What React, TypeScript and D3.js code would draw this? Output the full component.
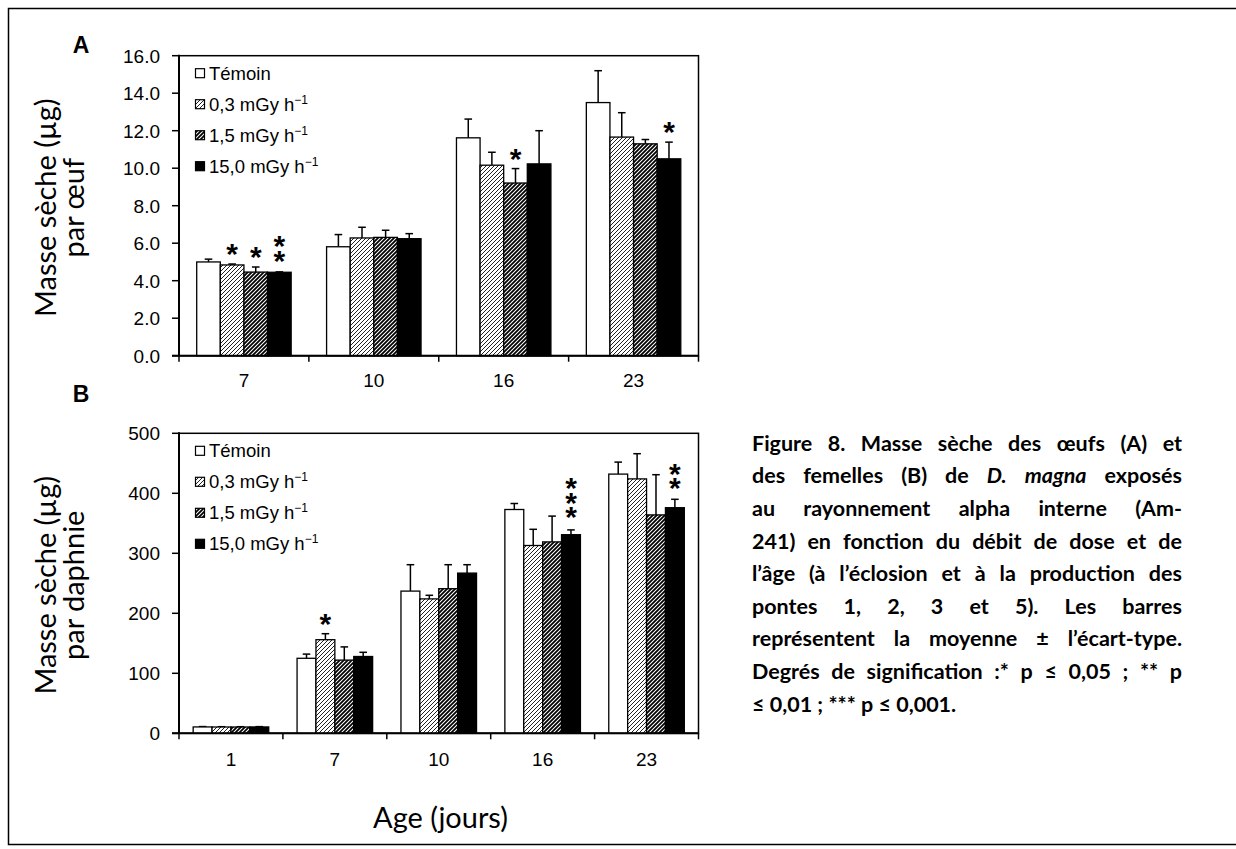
import React, { useMemo } from 'react';
import * as d3 from 'd3';

// ---------------- data ----------------
const seriesNames = ['Témoin', '0,3 mGy h', '1,5 mGy h', '15,0 mGy h'];
const seriesSuperscripts = ['', '−1', '−1', '−1'];

// Panel A : masse sèche par œuf (µg)
const agesA = ['7', '10', '16', '23'];
const eggTemoin = [5.0, 5.81, 11.62, 13.5];
const egg03 = [4.84, 6.28, 10.16, 11.66];
const egg15 = [4.46, 6.31, 9.21, 11.3];
const egg150 = [4.45, 6.24, 10.23, 10.5];
const eggSdTemoin = [0.15, 0.65, 1.0, 1.7];
const eggSd03 = [0.05, 0.57, 0.69, 1.3];
const eggSd15 = [0.27, 0.38, 0.77, 0.23];
const eggSd150 = [0.02, 0.27, 1.77, 0.89];
const eggStars = [
  [0, 1, 1, 2],
  [0, 0, 0, 0],
  [0, 0, 1, 0],
  [0, 0, 0, 1],
];
const eggTicks = [0, 2, 4, 6, 8, 10, 12, 14, 16];

// Panel B : masse sèche par daphnie (µg)
const agesB = ['1', '7', '10', '16', '23'];
const femTemoin = [10.6, 125, 237, 373, 432];
const fem03 = [10.5, 156, 224, 313, 424];
const fem15 = [10.5, 122, 241, 319, 364];
const fem150 = [10.6, 128, 267, 331, 376];
const femSdTemoin = [0.6, 7, 44, 10, 20];
const femSd03 = [0.5, 10, 6, 27, 42];
const femSd15 = [0.5, 22, 40, 43, 67];
const femSd150 = [0.5, 7, 14, 8, 14];
const femStars = [
  [0, 0, 0, 0],
  [0, 1, 0, 0],
  [0, 0, 0, 0],
  [0, 0, 0, 3],
  [0, 0, 0, 2],
];
const femTicks = [0, 100, 200, 300, 400, 500];

const yTitleA = ['Masse sèche (µg)', 'par œuf'];
const yTitleB = ['Masse sèche (µg)', 'par daphnie'];
const xTitle = 'Age (jours)';

const captionLines = [
  'Figure 8. Masse sèche des œufs (A) et',
  'des femelles (B) de D. magna exposés',
  'au rayonnement alpha interne (Am-',
  '241) en fonction du débit de dose et de',
  'l’âge (à l’éclosion et à la production des',
  'pontes 1, 2, 3 et 5). Les barres',
  'représentent la moyenne ± l’écart-type.',
  'Degrés de signification :* p ≤ 0,05 ; ** p',
  '≤ 0,01 ; *** p ≤ 0,001.',
];
const captionItalicLine = 1;
const captionItalicWords = ['D.', 'magna'];

// ---------------- style ----------------
const W = 1236;
const H = 849;
const ARIAL = "'Liberation Sans', Arial, sans-serif";
const CAL = "Lato, 'Open Sans', sans-serif";
const fills = ['#ffffff', 'url(#hatchLight)', 'url(#hatchDark)', '#000000'];
const STAR_FS = 30;
const STAR_GAP = 16;

let _ctx: CanvasRenderingContext2D | null = null;
function textW(t: string, font: string): number {
  if (!_ctx) _ctx = document.createElement('canvas').getContext('2d');
  if (!_ctx) return t.length * 10;
  _ctx.font = font;
  return _ctx.measureText(t).width;
}

function Stars({ cx, yTop, n }: { cx: number; yTop: number; n: number }) {
  if (n <= 0) return null;
  if (n === 1) {
    return (
      <text x={cx} y={yTop - 17 + 0.57 * STAR_FS} textAnchor="middle" fontFamily={ARIAL} fontWeight="bold" fontSize={STAR_FS}>
        *
      </text>
    );
  }
  // stacked stars: one vertical text run
  const adv = 1.149 * STAR_FS;
  const ls = STAR_GAP - adv;
  const inkCenter = 0.325 * STAR_FS;
  const y0 = yTop - 17 - (n - 1) * STAR_GAP - inkCenter;
  return (
    <text
      x={cx}
      y={y0}
      fontFamily={ARIAL}
      fontWeight="bold"
      fontSize={STAR_FS}
      style={{ writingMode: 'vertical-rl', textOrientation: 'upright', letterSpacing: `${ls}px` } as React.CSSProperties}
    >
      {'*'.repeat(n)}
    </text>
  );
}

type PanelProps = {
  cats: string[];
  means: number[][];
  sds: number[][];
  stars: number[][];
  ticks: number[];
  fmt: (v: number) => string;
  left: number;
  right: number;
  top: number;
  bottom: number;
  max: number;
  labelOffset: number;
  letter: string;
  letterY: number;
  title: string[];
  titleFs: number;
};

function Panel(p: PanelProps) {
  const x0 = d3.scaleBand<string>().domain(p.cats).range([p.left, p.right]).paddingInner(0).paddingOuter(0);
  const xs = d3
    .scaleBand<number>()
    .domain([0, 1, 2, 3])
    .range([0, x0.bandwidth()])
    .paddingInner(0)
    .paddingOuter(0.75);
  const y = d3.scaleLinear().domain([0, p.max]).range([p.bottom, p.top]);
  const bw = xs.bandwidth();
  const yc = (p.top + p.bottom) / 2;

  return (
    <g>
      {/* panel letter */}
      <text x={81} y={p.letterY} fontFamily={ARIAL} fontWeight="bold" fontSize={23} textAnchor="middle">
        {p.letter}
      </text>
      {/* y title */}
      {p.title.map((t, i) => (
        <text
          key={i}
          transform={`translate(${i === 0 ? 44 : 72},${yc + 2}) rotate(-90)`}
          fontFamily={CAL}
          fontSize={p.titleFs}
          textAnchor="middle"
          dominantBaseline="central"
        >
          {t}
        </text>
      ))}
      {/* plot area border */}
      <rect x={p.left} y={p.top} width={p.right - p.left} height={p.bottom - p.top} fill="none" stroke="#000" strokeWidth={1.5} />
      {/* y ticks */}
      {p.ticks.map((t) => (
        <g key={t}>
          <line x1={p.left - 7} x2={p.left} y1={y(t)} y2={y(t)} stroke="#000" strokeWidth={1.5} />
          <text x={160} y={y(t) + 6.8} textAnchor="end" fontFamily={ARIAL} fontSize={19}>
            {p.fmt(t)}
          </text>
        </g>
      ))}
      {/* bars */}
      {p.cats.map((c, ci) =>
        p.means.map((ser, si) => {
          const v = ser[ci];
          const sd = p.sds[si][ci];
          const bx = (x0(c) as number) + (xs(si) as number);
          const cx = bx + bw / 2;
          const yTop = y(v + sd);
          return (
            <g key={c + '-' + si}>
              <line x1={cx} x2={cx} y1={y(v)} y2={yTop} stroke="#000" strokeWidth={1.5} />
              <line x1={cx - 3.8} x2={cx + 3.8} y1={yTop} y2={yTop} stroke="#000" strokeWidth={1.5} />
              <rect x={bx} y={y(v)} width={bw} height={p.bottom - y(v)} fill={fills[si]} stroke="#000" strokeWidth={1.3} />
              <Stars cx={cx} yTop={yTop} n={p.stars[ci][si]} />
            </g>
          );
        })
      )}
      {/* axes */}
      <line x1={p.left} x2={p.left} y1={p.top - 1} y2={p.bottom} stroke="#000" strokeWidth={2} />
      <line x1={p.left - 7} x2={p.right} y1={p.bottom} y2={p.bottom} stroke="#000" strokeWidth={2} />
      {[...p.cats.map((c) => x0(c) as number), p.right].map((tx, i) => (
        <line key={i} x1={tx} x2={tx} y1={p.bottom} y2={p.bottom + 6} stroke="#000" strokeWidth={1.5} />
      ))}
      {p.cats.map((c) => (
        <text
          key={c}
          x={(x0(c) as number) + x0.bandwidth() / 2}
          y={p.bottom + p.labelOffset}
          textAnchor="middle"
          fontFamily={ARIAL}
          fontSize={19}
        >
          {c}
        </text>
      ))}
      {/* legend */}
      {seriesNames.map((s, i) => {
        const ry = p.top + 17.5 + i * 31;
        return (
          <g key={s}>
            <rect x={195.5} y={ry - 4.5} width={9} height={9} fill={fills[i]} stroke="#000" strokeWidth={1.2} />
            <text x={209} y={ry + 6.6} fontFamily={ARIAL} fontSize={18.5}>
              {s}
              {seriesSuperscripts[i] ? (
                <tspan dy={-7} fontSize={12}>
                  {seriesSuperscripts[i]}
                </tspan>
              ) : null}
            </text>
          </g>
        );
      })}
    </g>
  );
}

function Caption() {
  const left = 752;
  const right = 1182;
  const width = right - left;
  const base0 = 450.7;
  const lh = 32.6;
  const layout = useMemo(() => {
    const fontFor = (fs: number, it: boolean) => `${it ? 'italic ' : ''}bold ${fs}px Lato, 'Open Sans', sans-serif`;
    const words = captionLines.map((l, li) =>
      l.split(' ').map((w) => ({ t: w, it: li === captionItalicLine && captionItalicWords.includes(w) }))
    );
    const nat = (fs: number, li: number) => {
      const ws = words[li];
      const sp = textW(' ', fontFor(fs, false));
      return ws.reduce((a, w) => a + textW(w.t, fontFor(fs, w.it)), 0) + sp * (ws.length - 1);
    };
    let maxN = 0;
    for (let li = 0; li < captionLines.length - 1; li++) maxN = Math.max(maxN, nat(20, li));
    const fs = Math.min(21.5, (20 * width) / maxN);
    const sp = textW(' ', fontFor(fs, false));
    return {
      fs,
      lines: words.map((ws, li) => {
        const widths = ws.map((w) => textW(w.t, fontFor(fs, w.it)));
        const sum = widths.reduce((a, b) => a + b, 0);
        const last = li === words.length - 1;
        const gap = last || ws.length < 2 ? sp : (width - sum) / (ws.length - 1);
        let x = left;
        return ws.map((w, i) => {
          const r = { t: w.t, it: w.it, x };
          x += widths[i] + gap;
          return r;
        });
      }),
    };
  }, []);
  return (
    <g>
      {layout.lines.map((ws, li) =>
        ws.map((w, wi) => (
          <text
            key={li + '-' + wi}
            x={w.x}
            y={base0 + li * lh}
            fontFamily={CAL}
            fontWeight="bold"
            fontStyle={w.it ? 'italic' : 'normal'}
            fontSize={layout.fs}
          >
            {w.t}
          </text>
        ))
      )}
    </g>
  );
}

export default function App() {
  const titleFs = useMemo(() => {
    const w = textW(xTitle, `28px Lato, 'Open Sans', sans-serif`);
    return Math.min(30, (28 * 135) / w);
  }, []);
  return (
    <svg
      width={W}
      height={H}
      viewBox={`0 0 ${W} ${H}`}
      style={{ position: 'absolute', left: 0, top: 0, background: '#fff' }}
    >
      <defs>
        <pattern id="hatchLight" patternUnits="userSpaceOnUse" width={4} height={4}>
          <rect width={4} height={4} fill="#fff" />
          <path d="M-1,1 L1,-1 M0,4 L4,0 M3,5 L5,3" stroke="#222" strokeWidth={1} />
        </pattern>
        <pattern id="hatchDark" patternUnits="userSpaceOnUse" width={4} height={4}>
          <rect width={4} height={4} fill="#fff" />
          <path d="M-1,1 L1,-1 M0,4 L4,0 M3,5 L5,3" stroke="#000" strokeWidth={1.8} />
        </pattern>
      </defs>
      <rect x={0} y={0} width={W} height={H} fill="#fff" />
      {/* outer frame */}
      <rect x={8.5} y={8.5} width={W + 20} height={836} fill="none" stroke="#000" strokeWidth={1.5} />

      <Panel
        cats={agesA}
        means={[eggTemoin, egg03, egg15, egg150]}
        sds={[eggSdTemoin, eggSd03, eggSd15, eggSd150]}
        stars={eggStars}
        ticks={eggTicks}
        fmt={d3.format('.1f')}
        left={179}
        right={698.5}
        top={55.7}
        bottom={355.7}
        max={16}
        labelOffset={31}
        letter="A"
        letterY={53}
        title={yTitleA}
        titleFs={titleFs}
      />
      <Panel
        cats={agesB}
        means={[femTemoin, fem03, fem15, fem150]}
        sds={[femSdTemoin, femSd03, femSd15, femSd150]}
        stars={femStars}
        ticks={femTicks}
        fmt={d3.format('d')}
        left={179}
        right={698.5}
        top={433.3}
        bottom={733.3}
        max={500}
        labelOffset={33}
        letter="B"
        letterY={402}
        title={yTitleB}
        titleFs={titleFs}
      />
      <text x={440.5} y={828.3} textAnchor="middle" fontFamily={CAL} fontSize={titleFs}>
        {xTitle}
      </text>
      <Caption />
    </svg>
  );
}
